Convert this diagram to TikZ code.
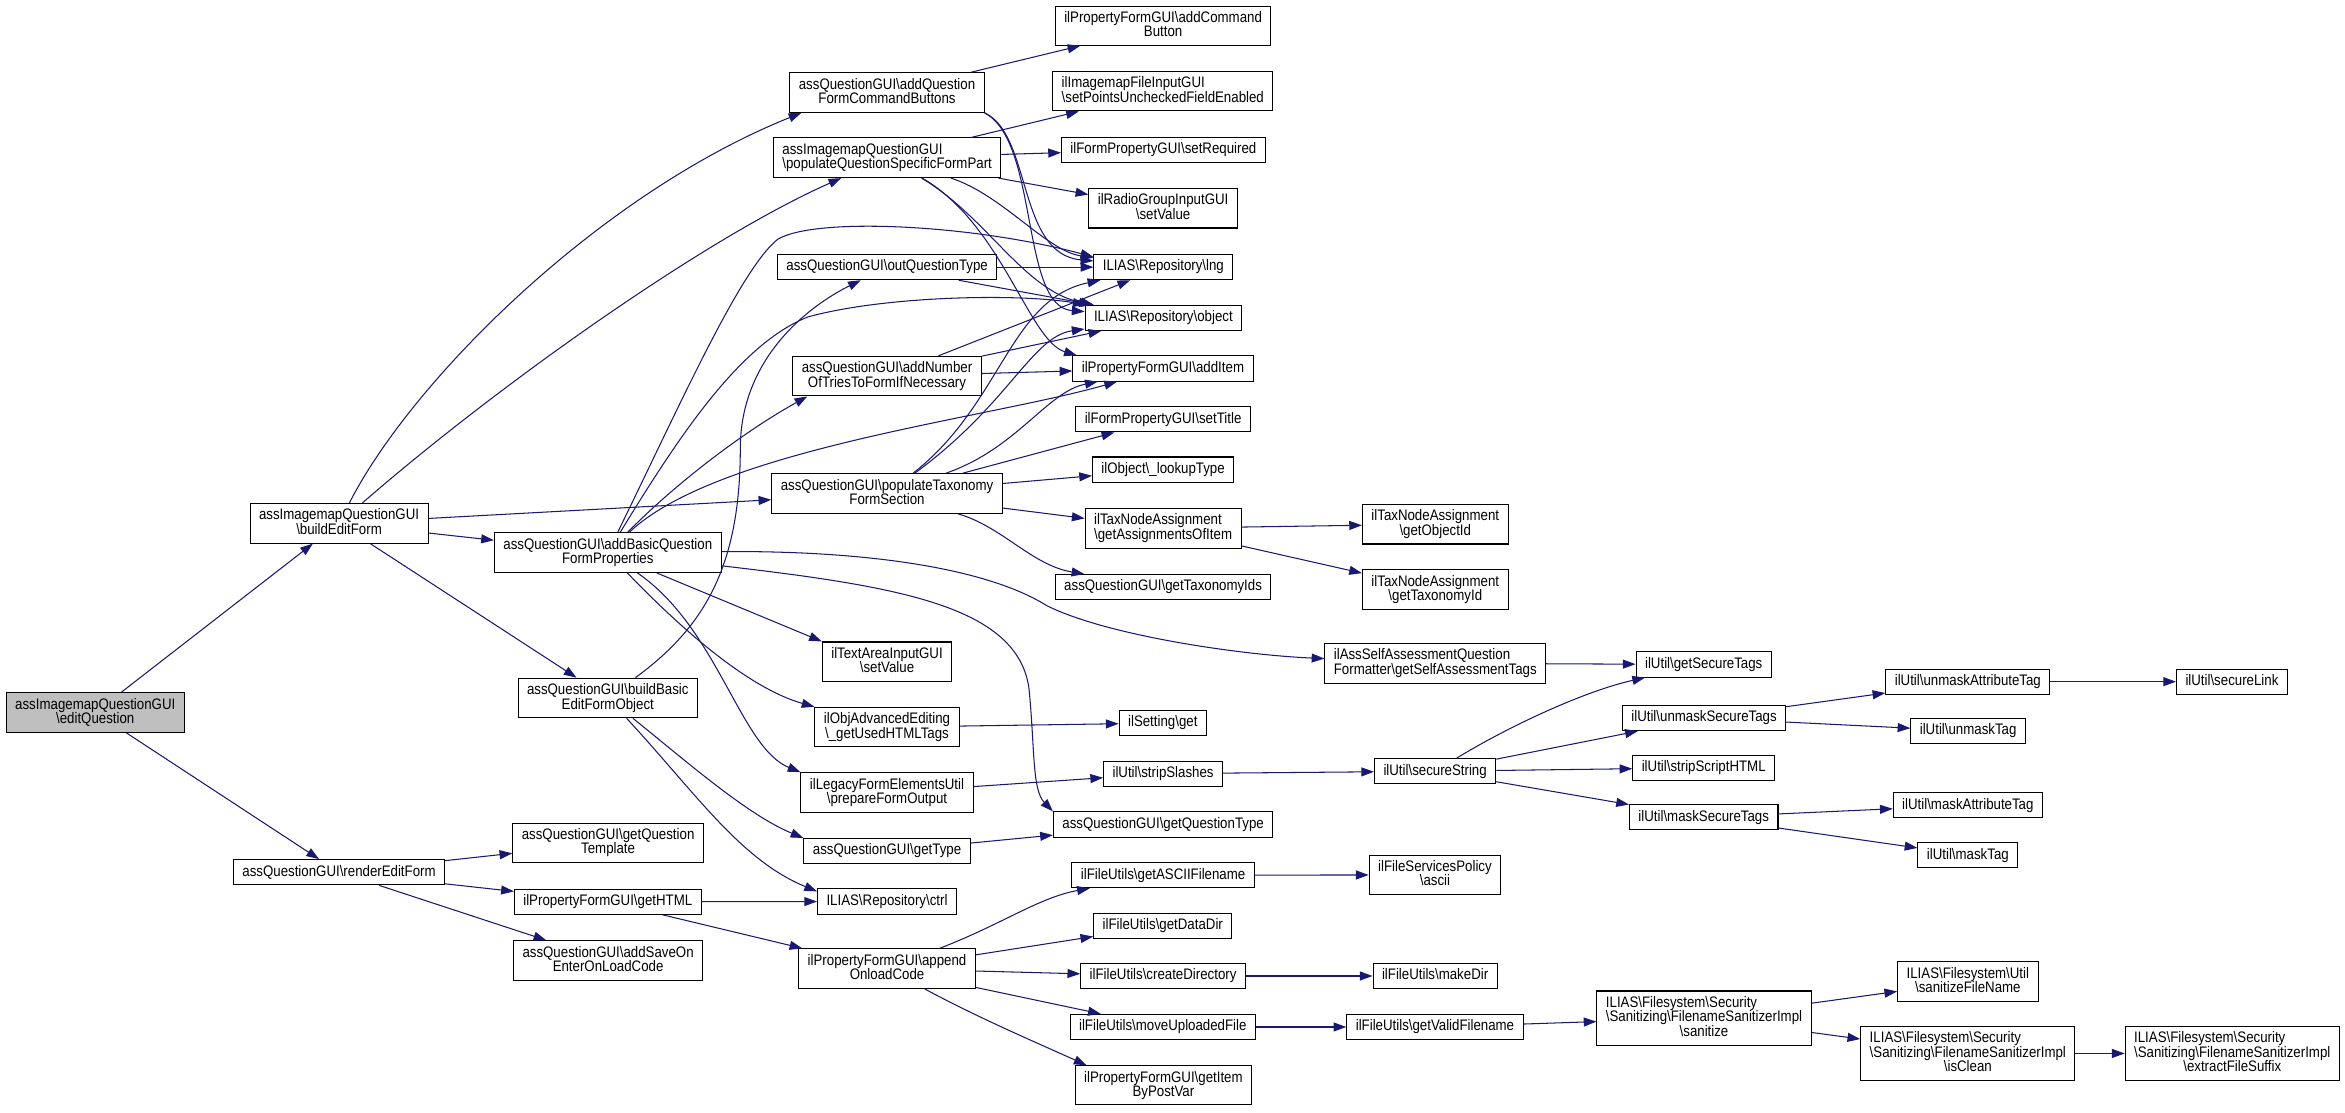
\documentclass[tikz,border=0pt]{standalone}
\usepackage{fontspec}
\setmainfont[FakeStretch=0.87]{Liberation Sans}
\usepackage{tikz}
\usetikzlibrary{positioning, arrows.meta}
\definecolor{edgeblue}{RGB}{25,25,112}
\definecolor{rootgray}{RGB}{191,191,191}
\newcommand{\bs}{\textbackslash}
\newcommand{\ctext}[1]{\begin{tabular}{@{}c@{}}#1\end{tabular}}
\newcommand{\ltext}[1]{\begin{tabular}{@{}l@{}}#1\end{tabular}}
\newcommand{\mtext}[2]{\begin{tabular}{@{}l@{}}#1\\\multicolumn{1}{@{}c@{}}{#2}\end{tabular}}

\begin{document}
\begin{tikzpicture}[x=1pt, y=-1pt,
    fn/.style={draw=black, fill=white, line width=0.7pt, inner xsep=6pt, inner ysep=3.6pt,
      font=\fontsize{10.2}{7.5}\selectfont},
    call/.style={draw=edgeblue, line width=0.7pt, -{Triangle[length=8.5pt,width=6pt]}}]
    \useasboundingbox (0,0) rectangle (1568,743.6);

    % Draw root
    \node[fn, fill=rootgray] (eq) at (63.7,476.4) {\ctext{assImagemapQuestionGUI\\\bs editQuestion}};

    % Draw called functions
    \foreach \nm/\x/\y/\txt in {
      bef/226.7/349.9/{\ctext{assImagemapQuestionGUI\\\bs buildEditForm}},
      ref/226.7/583.2/{\ctext{assQuestionGUI\bs renderEditForm}},
      abqfp/406.4/369.5/{\ctext{assQuestionGUI\bs addBasicQuestion\\FormProperties}},
      bbefo/406.4/466.7/{\ctext{assQuestionGUI\bs buildBasic\\EditFormObject}},
      gqt/406.6/563.6/{\ctext{assQuestionGUI\bs getQuestion\\Template}},
      ghtml/406.4/602.9/{\ctext{ilPropertyFormGUI\bs getHTML}},
      asoe/406.6/642.3/{\ctext{assQuestionGUI\bs addSaveOn\\EnterOnLoadCode}},
      aqfcb/593.1/61.9/{\ctext{assQuestionGUI\bs addQuestion\\FormCommandButtons}},
      pqsfp/593.2/105.5/{\ltext{assImagemapQuestionGUI\\\bs populateQuestionSpecificFormPart}},
      oqt/593.2/178.6/{\ctext{assQuestionGUI\bs outQuestionType}},
      anot/593.1/251.5/{\ctext{assQuestionGUI\bs addNumber\\OfTriesToFormIfNecessary}},
      ptfs/593.1/330/{\ctext{assQuestionGUI\bs populateTaxonomy\\FormSection}},
      tasv/593.1/442.5/{\ctext{ilTextAreaInputGUI\\\bs setValue}},
      oae/593.1/486.2/{\ctext{ilObjAdvancedEditing\\\bs\_getUsedHTMLTags}},
      lfeu/593.1/529.9/{\ctext{ilLegacyFormElementsUtil\\\bs prepareFormOutput}},
      gtype/593.1/569.1/{\ctext{assQuestionGUI\bs getType}},
      ctrl/593.1/602.8/{\ctext{ILIAS\bs Repository\bs ctrl}},
      aoc/593.1/647.7/{\ctext{ilPropertyFormGUI\bs append\\OnloadCode}},
      acb/777.7/17.2/{\ctext{ilPropertyFormGUI\bs addCommand\\Button}},
      spu/777.5/60.9/{\ltext{ilImagemapFileInputGUI\\\bs setPointsUncheckedFieldEnabled}},
      sreq/777.9/100.1/{\ctext{ilFormPropertyGUI\bs setRequired}},
      rgsv/777.7/139.2/{\ctext{ilRadioGroupInputGUI\\\bs setValue}},
      lng/777.9/178.6/{\ctext{ILIAS\bs Repository\bs lng}},
      obj/777.9/212.5/{\ctext{ILIAS\bs Repository\bs object}},
      aitem/777.6/246.4/{\ctext{ilPropertyFormGUI\bs addItem}},
      stitle/777.7/280.4/{\ctext{ilFormPropertyGUI\bs setTitle}},
      lkt/777.7/314/{\ctext{ilObject\bs\_lookupType}},
      gaoi/777.7/353.2/{\ltext{ilTaxNodeAssignment\\\bs getAssignmentsOfItem}},
      gtids/777.7/392.6/{\ctext{assQuestionGUI\bs getTaxonomyIds}},
      sget/777.5/483.5/{\ctext{ilSetting\bs get}},
      sslash/777.7/517.3/{\ctext{ilUtil\bs stripSlashes}},
      gqtype/777.7/551.3/{\ctext{assQuestionGUI\bs getQuestionType}},
      gascii/777.7/585.2/{\ctext{ilFileUtils\bs getASCIIFilename}},
      gdd/777.5/619/{\ctext{ilFileUtils\bs getDataDir}},
      cdir/777.7/652.6/{\ctext{ilFileUtils\bs createDirectory}},
      muf/777.5/686.7/{\ctext{ilFileUtils\bs moveUploadedFile}},
      gibpv/777.9/725.7/{\ctext{ilPropertyFormGUI\bs getItem\\ByPostVar}},
      goid/959.7/350.5/{\ctext{ilTaxNodeAssignment\\\bs getObjectId}},
      gtid/959.7/394.3/{\ctext{ilTaxNodeAssignment\\\bs getTaxonomyId}},
      saf/959.7/443.5/{\ltext{ilAssSelfAssessmentQuestion\\Formatter\bs getSelfAssessmentTags}},
      sstr/959.6/515.7/{\ctext{ilUtil\bs secureString}},
      fspa/959.5/585/{\ctext{ilFileServicesPolicy\\\bs ascii}},
      mkdir/959.6/652.6/{\ctext{ilFileUtils\bs makeDir}},
      gvf/959.5/686.7/{\ctext{ilFileUtils\bs getValidFilename}},
      gst/1139.2/444.3/{\ctext{ilUtil\bs getSecureTags}},
      ust/1139.4/480.1/{\ctext{ilUtil\bs unmaskSecureTags}},
      sshtml/1139.2/513.4/{\ctext{ilUtil\bs stripScriptHTML}},
      mst/1139.2/546.5/{\ctext{ilUtil\bs maskSecureTags}},
      san/1139.4/680.7/{\mtext{ILIAS\bs Filesystem\bs Security\\\bs Sanitizing\bs FilenameSanitizerImpl}{\bs sanitize}},
      uat/1315.8/455.8/{\ctext{ilUtil\bs unmaskAttributeTag}},
      utag/1316/488.8/{\ctext{ilUtil\bs unmaskTag}},
      mat/1315.8/538.5/{\ctext{ilUtil\bs maskAttributeTag}},
      mtag/1315.8/571.8/{\ctext{ilUtil\bs maskTag}},
      sfn/1315.8/656.4/{\ctext{ILIAS\bs Filesystem\bs Util\\\bs sanitizeFileName}},
      iscl/1315.8/704.4/{\mtext{ILIAS\bs Filesystem\bs Security\\\bs Sanitizing\bs FilenameSanitizerImpl}{\bs isClean}},
      slink/1492.4/455.8/{\ctext{ilUtil\bs secureLink}},
      efs/1492.6/704.4/{\mtext{ILIAS\bs Filesystem\bs Security\\\bs Sanitizing\bs FilenameSanitizerImpl}{\bs extractFileSuffix}}} {
      \node[fn] (\nm) at (\x,\y) {\txt};
    }

    % Straight calls
    \foreach \a/\b in {eq/bef, eq/ref, bef/ptfs, bef/abqfp, bef/bbefo, ref/gqt, ref/ghtml, ref/asoe,
      ghtml/ctrl, ghtml/aoc, aqfcb/acb, pqsfp/spu, pqsfp/sreq, pqsfp/rgsv, oqt/lng, oqt/obj,
      anot/lng, anot/obj, anot/aitem, ptfs/stitle, ptfs/lkt, ptfs/gaoi, gaoi/goid, gaoi/gtid,
      saf/gst, oae/sget, lfeu/sslash, sslash/sstr, gtype/gqtype, sstr/ust, sstr/sshtml, sstr/mst,
      ust/uat, ust/utag, uat/slink, mst/mat, mst/mtag, aoc/gdd, aoc/cdir, aoc/muf,
      gascii/fspa, cdir/mkdir, muf/gvf, gvf/san, san/sfn, san/iscl, iscl/efs}
      \draw[call] (\a) -- (\b);

    % Curved calls
    \draw[call] (bef) .. controls (275,255) and (400,130) .. ([xshift=8pt]aqfcb.south west);
    \draw[call] (bef) .. controls (330,260) and (470,160) .. (pqsfp);
    \draw[call] (abqfp) .. controls (455,270) and (495,180) .. (520,160) .. controls (545,145) and (650,150) .. ([yshift=-2pt]lng.north west);
    \draw[call] (abqfp) .. controls (455,290) and (495,230) .. (540,212) .. controls (590,198) and (680,196) .. (obj);
    \draw[call] (abqfp) .. controls (450,325) and (495,290) .. ([xshift=10pt]anot.south west);
    \draw[call] (abqfp) .. controls (480,300) and (660,280) .. (aitem);
    \draw[call] (abqfp) .. controls (580,368) and (660,380) .. (700,405) .. controls (740,425) and (830,438) .. (saf);
    \draw[call] (abqfp) .. controls (600,392) and (680,405) .. (688,460) .. controls (692,500) and (690,528) .. (gqtype.north west);
    \draw[call] (abqfp) -- (tasv.north west);
    \draw[call] (abqfp) .. controls (455,420) and (500,460) .. (oae.north west);
    \draw[call] (abqfp) .. controls (480,420) and (495,500) .. (lfeu.north west);
    \draw[call] (bbefo) .. controls (470,420) and (495,380) .. (495,300) .. controls (495,240) and (540,205) .. (oqt);
    \draw[call] (bbefo) .. controls (460,510) and (500,545) .. (gtype.north west);
    \draw[call] (bbefo) .. controls (465,530) and (495,575) .. ([yshift=-2pt]ctrl.north west);
    \draw[call] (aqfcb.south east) .. controls (690,90) and (680,170) .. (lng);
    \draw[call] (aqfcb.south east) .. controls (695,95) and (682,205) .. (obj);
    \draw[call] (pqsfp) .. controls (670,130) and (700,168) .. (lng);
    \draw[call] (pqsfp) .. controls (660,145) and (685,195) .. (obj);
    \draw[call] (pqsfp) .. controls (670,150) and (688,228) .. ([xshift=3pt]aitem.north west);
    \draw[call] (ptfs) .. controls (670,270) and (675,200) .. (lng);
    \draw[call] (ptfs) .. controls (675,270) and (690,225) .. (obj);
    \draw[call] (ptfs) .. controls (680,300) and (700,262) .. (aitem);
    \draw[call] (ptfs) .. controls (670,352) and (690,378) .. (gtids);
    \draw[call] (sstr) .. controls (1010,485) and (1060,462) .. (gst);
    \draw[call] (aoc) .. controls (670,618) and (695,600) .. (gascii);
    \draw[call] (aoc) .. controls (655,681) and (695,698) .. ([xshift=8pt]gibpv.north west);

  \end{tikzpicture}
\end{document}
